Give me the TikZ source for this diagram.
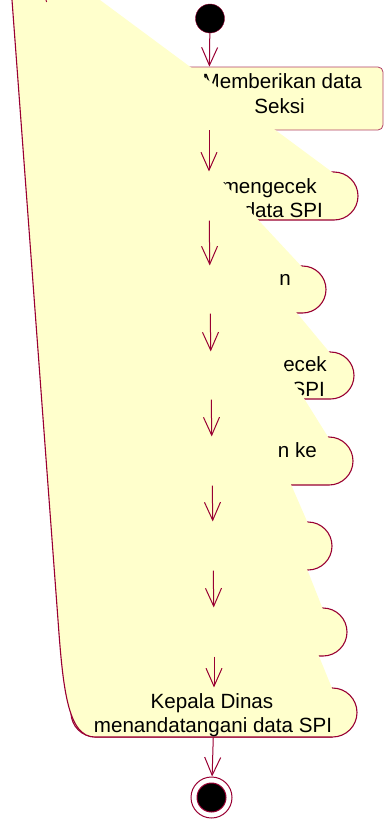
\documentclass[tikz,border=0pt]{standalone}
\usepackage{fontspec}
\setmainfont{Liberation Sans}
\usetikzlibrary{arrows.meta,shapes.misc}
\definecolor{roseline}{RGB}{153,0,51}
\definecolor{rosefill}{RGB}{255,255,204}
\tikzset{
  flow/.style={draw=roseline,line width=1pt,-{Straight Barb[length=18pt,width=16pt,line width=1pt]}},
  actstate/.style={rounded rectangle,draw=roseline,fill=rosefill,line width=1.1pt,inner sep=0pt},
  lbl/.style={anchor=base east,inner sep=0pt,font=\fontsize{20.6}{24}\selectfont},
  lblc/.style={anchor=base,inner sep=0pt,font=\fontsize{20.6}{24}\selectfont},
}
\begin{document}
\begin{tikzpicture}[x=1pt,y=-1pt]
  \useasboundingbox (0,0) rectangle (385,819);
  \node[circle,fill=black,draw=roseline,inner sep=0pt,minimum size=29pt] (s) at (210,18.5) {};
  \node[rectangle,rounded corners=5pt,draw=roseline!75,fill=rosefill,line width=0.8pt,inner sep=0pt,
    minimum width=348pt,minimum height=63pt] (b1) at (209,98.5) {};
  \node[actstate,minimum width=298pt,minimum height=48pt] (b2) at (209,196) {};
  \node[actstate,minimum width=232pt,minimum height=47pt] (b3) at (210,289.5) {};
  \node[actstate,minimum width=286pt,minimum height=47pt] (b4) at (211,375.5) {};
  \node[actstate,minimum width=282pt,minimum height=48pt] (b5) at (212,461) {};
  \node[actstate,minimum width=238pt,minimum height=48pt] (b6) at (213,546) {};
  \node[actstate,minimum width=266pt,minimum height=48pt] (b7) at (214,632) {};
  \node[actstate,minimum width=286pt,minimum height=49pt] (b8) at (214,712.5) {};
  \node[lbl] (t1a) at (362,88) {Memberikan data};
  \node[lbl] (t1b) at (305,113) {Seksi};
  \node[lbl] (t2a) at (317,193) {mengecek};
  \node[lbl] (t2b) at (323,217) {data SPI};
  \node[lbl] (t3a) at (291,285) {n};
  \node[lbl] (t4a) at (327,371) {ecek};
  \node[lbl] (t4b) at (325,396) {SPI};
  \node[lbl] (t5a) at (317,457) {n ke};
  % the big sheet lying over the states
  \fill[rosefill] (12,0) -- (100,0) -- (334,173.5) -- (215,173.5) -- (302.5,267.5) -- (259,267.5)
    -- (330.5,353.5) -- (276,353.5) -- (329,438.5) -- (271,438.5) -- (308,523.5) -- (289,523.5)
    -- (323,609.5) -- (300,609.5) -- (332.5,689.5) -- (332.5,737) -- (95,737)
    .. controls (68,737) and (63,690) .. (58,620) -- cycle;
  \draw[roseline,line width=1.1pt] (12,0) -- (58,620) .. controls (63,690) and (68,737) .. (95,737) -- (332.5,737);
  \draw[roseline,line width=1pt] (46,0) -- (46.6,2);
  \node[lblc] (t8a) at (212,708) {Kepala Dinas};
  \node[lblc] (t8b) at (213,732) {menandatangani data SPI};
  \node[circle,draw=roseline,fill=white,line width=1pt,inner sep=0pt,minimum size=41pt,
    path picture={\fill[black,draw=roseline] (path picture bounding box.center) circle (14.5pt);}] (e) at (211.5,797.5) {};
  \draw[flow] (s) -- (b1);
  \draw[flow] (b1) -- (b2);
  \draw[flow] (b2) -- (b3);
  \draw[flow] (b3) -- (b4);
  \draw[flow] (b4) -- (b5);
  \draw[flow] (b5) -- (b6);
  \draw[flow] (b6) -- (b7);
  \draw[flow] (b7) -- (b8);
  \draw[flow] (b8) -- (e);
\end{tikzpicture}
\end{document}
